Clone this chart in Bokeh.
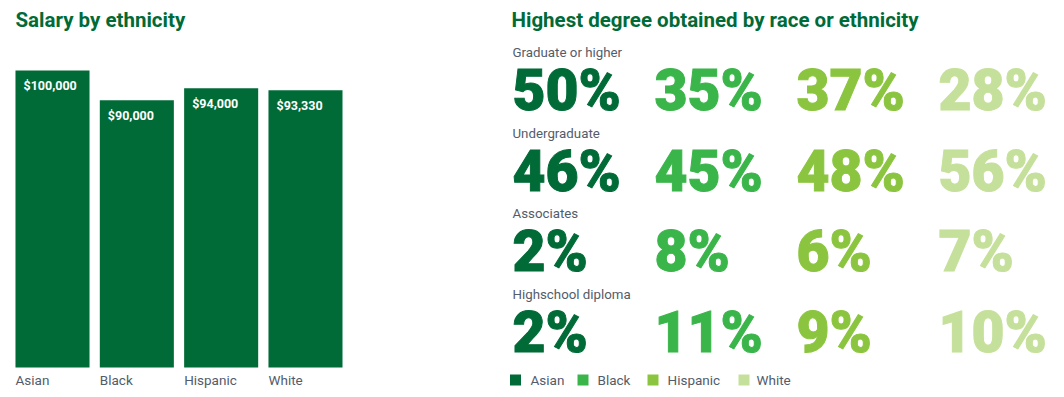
from bokeh.plotting import figure
from bokeh.models import ColumnDataSource, Range1d, Label
from bokeh.layouts import row
from bokeh.embed import file_html
from bokeh.resources import INLINE
from bokeh.core.properties import value

# ---------------- data ----------------
ethnicities = ["Asian", "Black", "Hispanic", "White"]
salaries = [100000, 90000, 94000, 93330]
salary_labels = ["$100,000", "$90,000", "$94,000", "$93,330"]

degrees = ["Graduate or higher", "Undergraduate", "Associates", "Highschool diploma"]
asian_pct = [50, 46, 2, 2]
black_pct = [35, 45, 8, 11]
hispanic_pct = [37, 48, 6, 9]
white_pct = [28, 56, 7, 10]

eth_colors = ["#006B37", "#3AB54A", "#8BC53F", "#C5E09A"]

DARK = "#006B37"
GRAY = "#535C6A"
FONT = "Roboto"
BIG_FONT = "Roboto Black"
BL = 0.37  # baseline correction (em)

H = 397
LW, RW = 488, 576
OFF = 0  # page offset of the canvas

# ---------------- left: salary bars ----------------
BAR_PITCH = 84.33       # px per category
BAR_W = 0.878           # fraction of pitch
x0 = -(52 - OFF) / BAR_PITCH
y_scale = 100000 / 297  # value per px
base_page_y = 367

def lx(page_x):
    return x0 + (page_x - OFF) / BAR_PITCH

def ly(page_y):
    return (base_page_y - page_y) * y_scale

left = figure(width=LW, height=H, title=None,
              x_range=Range1d(x0, x0 + LW / BAR_PITCH),
              y_range=Range1d(ly(OFF + H), ly(OFF)),
              x_axis_location=None, y_axis_location=None,
              toolbar_location=None, output_backend="svg",
              min_border=0, min_border_left=0, min_border_right=0,
              min_border_top=0, min_border_bottom=0)
left.grid.visible = False
left.outline_line_color = None

idx = list(range(len(ethnicities)))
src = ColumnDataSource(dict(
    x=idx,
    xl=[i - BAR_W / 2 for i in idx],
    y=salaries,
    zero=[0] * len(idx),
    lab=salary_labels,
    cat=ethnicities,
))
left.vbar(x="x", top="y", bottom=0, width=BAR_W, source=src,
          fill_color=DARK, line_color=None)
left.text(x="xl", y="y", text="lab", source=src, x_offset=8,
          y_offset=20 - BL * 12.5,
          text_color="white", text_font=value(FONT), text_font_style="bold",
          text_font_size="12.5px", text_baseline="alphabetic", text_align="left")
left.text(x="xl", y="zero", text="cat", source=src, y_offset=17 - BL * 13.5,
          text_color=GRAY, text_font=value(FONT), text_font_size="13.5px",
          text_baseline="alphabetic", text_align="left")
left.add_layout(Label(x=lx(15), y=ly(27.5 - BL * 20.5), text="Salary by ethnicity",
                      text_color=DARK, text_font=FONT, text_font_style="bold",
                      text_font_size="20.5px", text_baseline="alphabetic"))

# ---------------- right: degree percentages ----------------
COL_PITCH = 142.0
ROW_PITCH = 80.67
RIGHT_LEFT = OFF + LW
row0_page = 111
rx0 = -(512 - RIGHT_LEFT) / COL_PITCH

def rx(page_x):
    return rx0 + (page_x - RIGHT_LEFT) / COL_PITCH

def ry(page_y):
    return (page_y - row0_page) / ROW_PITCH

right = figure(width=RW, height=H, title=None,
               x_range=Range1d(rx0, rx0 + RW / COL_PITCH),
               y_range=Range1d(ry(OFF + H), ry(OFF)),
               x_axis_location=None, y_axis_location=None,
               toolbar_location=None, output_backend="svg",
               min_border=0, min_border_left=0, min_border_right=0,
               min_border_top=0, min_border_bottom=0)
right.grid.visible = False
right.outline_line_color = None

series = [asian_pct, black_pct, hispanic_pct, white_pct]
for ci, (vals, col) in enumerate(zip(series, eth_colors)):
    s = ColumnDataSource(dict(
        x=[ci] * len(degrees),
        y=list(range(len(degrees))),
        t=[f"{v}%" for v in vals],
    ))
    right.text(x="x", y="y", text="t", source=s, text_color=col,
               text_font=value(BIG_FONT), text_font_style="normal",
               text_font_size="57px", text_baseline="alphabetic",
               y_offset=-BL * 57,
               text_align="left", text_outline_color=col)

deg_src = ColumnDataSource(dict(x=[0] * len(degrees),
                                y=list(range(len(degrees))), t=degrees))
right.text(x="x", y="y", text="t", source=deg_src, y_offset=-54 - BL * 13.3,
           text_color=GRAY, text_font=value(FONT), text_font_size="13.3px",
           text_baseline="alphabetic", text_align="left")

right.add_layout(Label(x=rx(511), y=ry(27.5 - BL * 20.5),
                       text="Highest degree obtained by race or ethnicity",
                       text_color=DARK, text_font=FONT, text_font_style="bold",
                       text_font_size="20.5px", text_baseline="alphabetic"))

# legend
leg_sq_x = [515, 582.5, 652.5, 743.5]
leg_tx_x = [530, 597, 667, 756]
leg = ColumnDataSource(dict(
    sx=[rx(v) for v in leg_sq_x],
    sy=[ry(379.5)] * 4,
    tx=[rx(v) for v in leg_tx_x],
    ty=[ry(384 - BL * 13.5)] * 4,
    c=eth_colors,
    t=ethnicities,
))
right.scatter(x="sx", y="sy", marker="square", size=11, fill_color="c",
              line_color=None, source=leg)
right.text(x="tx", y="ty", text="t", source=leg, text_color=GRAY,
           text_font=value(FONT), text_font_size="13.5px",
           text_baseline="alphabetic", text_align="left")

layout = row(left, right)
open("out.html", "w").write(file_html(layout, INLINE))
